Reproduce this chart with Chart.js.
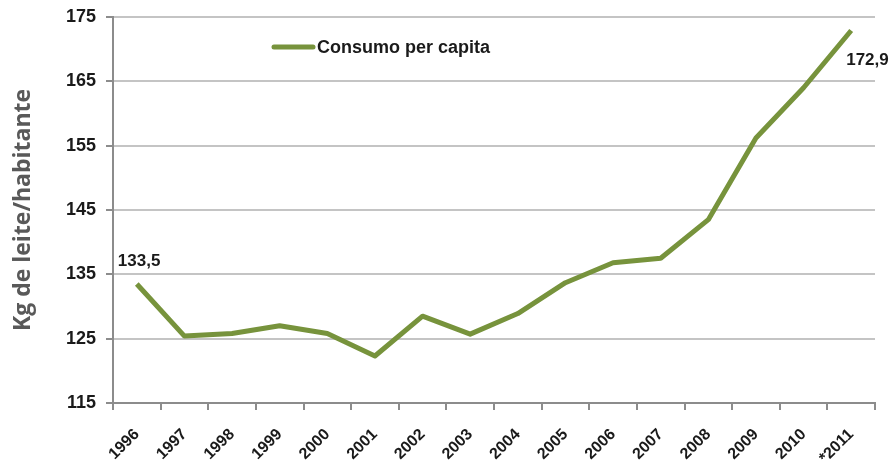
<!DOCTYPE html>
<html>
<head>
<meta charset="utf-8">
<script src="https://cdn.jsdelivr.net/npm/chart.js@4"></script>
<style>
  html, body { margin: 0; padding: 0; background: #fff; }
  #wrap { width: 893px; height: 466px; }
</style>
</head>
<body>
<div id="wrap"><canvas id="grafico"></canvas></div>
<script>
// consumo de leite por habitante (kg)
const anos = ['1996', '1997', '1998', '1999', '2000', '2001', '2002', '2003',
  '2004', '2005', '2006', '2007', '2008', '2009', '2010', '*2011'];
const consumo = [133.5, 125.4, 125.8, 127.0, 125.8, 122.3, 128.5, 125.7,
  128.9, 133.7, 136.8, 137.5, 143.5, 156.2, 164.0, 172.9];
const rotulos = { 0: '133,5', 15: '172,9' };
const nomeSerie = 'Consumo per capita';
const tituloY = 'Kg de leite/habitante';

const verde = '#77933c';
const fonte = '"Liberation Sans", Arial, sans-serif';

// valores escritos junto ao primeiro e ao último ponto
const pluginRotulos = {
  id: 'rotulos',
  afterDatasetsDraw(chart) {
    const ctx = chart.ctx;
    const pts = chart.getDatasetMeta(0).data;
    ctx.save();
    ctx.font = 'bold 17px ' + fonte;
    ctx.fillStyle = '#1a1a1a';
    ctx.textBaseline = 'middle';
    ctx.textAlign = 'left';
    Object.keys(rotulos).forEach(i => {
      const p = pts[i];
      if (i == 0) {
        ctx.fillText(rotulos[i], p.x - 19, p.y - 23);
      } else {
        ctx.fillText(rotulos[i], p.x - 5, p.y + 30);
      }
    });
    ctx.restore();
  }
};

// legenda dentro da área do gráfico
const pluginLegenda = {
  id: 'legenda',
  afterDraw(chart) {
    const ctx = chart.ctx;
    ctx.save();
    ctx.strokeStyle = verde;
    ctx.lineWidth = 5;
    ctx.lineCap = 'round';
    ctx.beginPath();
    ctx.moveTo(274, 47);
    ctx.lineTo(313, 47);
    ctx.stroke();
    ctx.font = 'bold 18px ' + fonte;
    ctx.fillStyle = '#1a1a1a';
    ctx.textBaseline = 'middle';
    ctx.fillText(nomeSerie, 317, 48);
    ctx.restore();
  }
};

new Chart(document.getElementById('grafico'), {
  type: 'line',
  data: {
    labels: anos,
    datasets: [{
      label: nomeSerie,
      data: consumo,
      borderColor: verde,
      borderWidth: 5,
      pointRadius: 0,
      tension: 0,
      borderJoinStyle: 'round'
    }]
  },
  options: {
    responsive: true,
    maintainAspectRatio: false,
    animation: false,
    layout: { padding: { top: 17, right: 18 } },
    plugins: {
      legend: { display: false },
      tooltip: { enabled: false }
    },
    scales: {
      x: {
        offset: true,
        grid: { offset: true, drawOnChartArea: false, drawTicks: true, tickLength: 7, color: '#8c8c8c', lineWidth: 2 },
        border: { color: '#8c8c8c', width: 2 },
        ticks: {
          color: '#1a1a1a',
          font: { family: fonte, size: 16, weight: 'bold' },
          minRotation: 45,
          maxRotation: 45,
          padding: 15
        },
        afterFit(s) { s.height = 63; }
      },
      y: {
        min: 115,
        max: 175,
        ticks: {
          stepSize: 10,
          color: '#1a1a1a',
          font: { family: fonte, size: 18, weight: 'bold' },
          padding: 10
        },
        grid: { color: '#c4c4c4', lineWidth: 2, tickLength: 7, tickColor: '#8c8c8c' },
        border: { color: '#8c8c8c', width: 2 },
        title: {
          display: true,
          text: tituloY,
          color: '#595959',
          padding: { top: 10, bottom: 0 },
          font: { family: '"Open Sans", ' + fonte, size: 23, weight: 'bold' }
        },
        afterFit(s) {
          s.width = 113;
          s.paddingTop = 0;
          s.paddingBottom = 0;
        }
      }
    }
  },
  plugins: [pluginRotulos, pluginLegenda]
});
</script>
</body>
</html>
